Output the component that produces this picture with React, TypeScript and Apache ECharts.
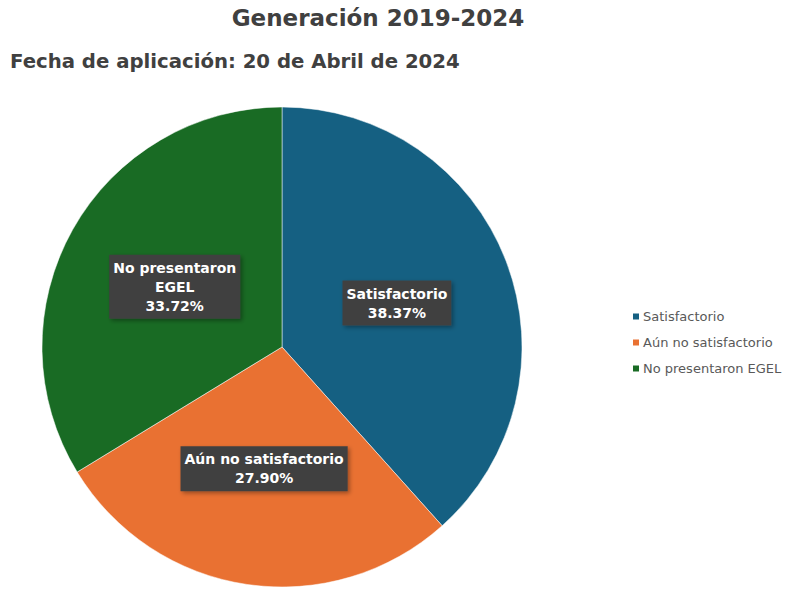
import React, { useEffect, useRef } from "react";
import * as echarts from "echarts";

const categories = ["Satisfactorio", "Aún no satisfactorio", "No presentaron EGEL"];
const values = [38.37, 27.9, 33.72];
const labelNames = ["Satisfactorio", "Aún no satisfactorio", "No presentaron\nEGEL"];
const colors = ["#156082", "#E97132", "#196B24"];

export default function App() {
  const ref = useRef<HTMLDivElement>(null);
  useEffect(() => {
    if (!ref.current) return;
    const chart = echarts.init(ref.current, undefined, { renderer: "svg" });
    const font = "'DejaVu Sans', sans-serif";
    chart.setOption({
      animation: false,
      backgroundColor: "#ffffff",
      textStyle: { fontFamily: font },
      title: [
        {
          text: "Generación 2019-2024",
          left: 378,
          textAlign: "center",
          top: 6,
          padding: 0,
          textStyle: { fontSize: 23, fontWeight: "bold", color: "#404040", fontFamily: font },
        },
        {
          text: "Fecha de aplicación: 20 de Abril de 2024",
          left: 10,
          top: 51,
          padding: 0,
          textStyle: { fontSize: 19.7, fontWeight: "bold", color: "#404040", fontFamily: font },
        },
      ],
      legend: {
        orient: "vertical",
        left: 626,
        top: 305,
        itemWidth: 8,
        itemHeight: 8,
        itemGap: 13,
        icon: "rect",
        data: categories,
        textStyle: { fontSize: 13, color: "#595959", fontFamily: font, padding: [0, 0, 0, -2] },
      },
      series: [
        {
          type: "pie",
          center: [282, 347],
          radius: [0, 240],
          startAngle: 90,
          clockwise: true,
          color: colors,
          itemStyle: { borderColor: "#ffffff", borderWidth: 0.5 },
          label: {
            show: true,
            position: "inside",
            color: "#ffffff",
            fontSize: 14,
            fontWeight: "bold",
            fontFamily: font,
            lineHeight: 19,
            backgroundColor: "#404040",
            padding: [4, 4, 3, 4],
            shadowColor: "rgba(0,0,0,0.35)",
            shadowBlur: 4,
            shadowOffsetX: 2,
            shadowOffsetY: 2,
            align: "center",
            formatter: (p: any) => labelNames[p.dataIndex] + "\n" + values[p.dataIndex].toFixed(2) + "%",
          },
          labelLine: { show: false },
          emphasis: { disabled: true },
          data: categories.map((name, i) => ({ name, value: values[i] })),
        },
      ],
    });
    return () => chart.dispose();
  }, []);
  return <div ref={ref} style={{ position: "fixed", left: 0, top: 0, width: 788, height: 592 }} />;
}
